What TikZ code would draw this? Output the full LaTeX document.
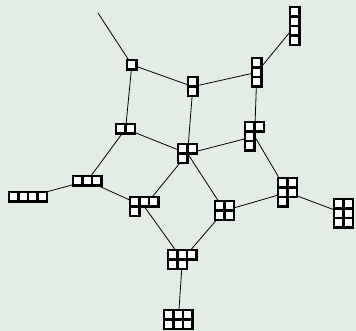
\documentclass[tikz,border=0pt]{standalone}
\definecolor{bg}{RGB}{228,237,229}
\tikzset{
  cellbox/.style={draw=black, fill=white, line width=2.3pt},
  edge/.style={draw=black, line width=0.8pt},
  ydnode/.style={anchor=north west, inner sep=0pt, outer sep=0pt, draw=none}
}
\newcommand\ydnode[5]{% name, x, y, cols, rows
  \node[ydnode, minimum width=#4*9.5pt, minimum height=#5*9.5pt] (#1) at (#2+1.1,-#3-1.1) {};}
\newcommand\ydcells[3]{% x, y, rowlist
  \foreach \len [count=\r from 0] in {#3} {
    \foreach \c in {1,...,\len} {
      \draw[cellbox] ({#1+1.1+(\c-1)*9.5},{-(#2+1.1+\r*9.5)}) rectangle ++(9.5,-9.5);
    }
  }}
\begin{document}
\begin{tikzpicture}[x=1pt,y=1pt]
\fill[bg] (0,0) rectangle (356,-331);
\useasboundingbox (0,0) rectangle (356,-331);
% nodes (bounding boxes)
\ydnode{A}{126}{59}{1}{1}
\ydnode{B}{187}{76}{1}{2}
\ydnode{C}{251}{57}{1}{3}
\ydnode{D}{289}{6}{1}{4}
\ydnode{E}{115}{123}{2}{1}
\ydnode{F}{177}{143}{2}{2}
\ydnode{G}{244}{121}{2}{3}
\ydnode{H}{72}{175}{3}{1}
\ydnode{I}{8}{191}{4}{1}
\ydnode{J}{129}{196}{3}{2}
\ydnode{K}{214}{200}{2}{2}
\ydnode{L}{277}{177}{2}{3}
\ydnode{M}{333}{198}{2}{3}
\ydnode{N}{167}{249}{3}{2}
\ydnode{O}{163}{309}{3}{2}
\coordinate (top) at (98,-13);
% edges
\draw[edge] (top) -- (A.center);
\draw[edge] (A.center) -- (B.center);
\draw[edge] (A.center) -- (E.center);
\draw[edge] (B.center) -- (C.center);
\draw[edge] (B.center) -- (F.center);
\draw[edge] (C.center) -- (D.center);
\draw[edge] (C.center) -- (G.center);
\draw[edge] (E.center) -- (F.center);
\draw[edge] (E.center) -- (H.center);
\draw[edge] (F.center) -- (G.center);
\draw[edge] (F.center) -- (J.center);
\draw[edge] (F.center) -- (K.center);
\draw[edge] (H.center) -- (I.center);
\draw[edge] (H.center) -- (J.center);
\draw[edge] (G.center) -- (L.center);
\draw[edge] (K.center) -- (L.center);
\draw[edge] (L.center) -- (M.center);
\draw[edge] (J.center) -- (N.center);
\draw[edge] (K.center) -- (N.center);
\draw[edge] (N.center) -- (O.center);
% cells
\ydcells{126}{59}{1}
\ydcells{187}{76}{1,1}
\ydcells{251}{57}{1,1,1}
\ydcells{289}{6}{1,1,1,1}
\ydcells{115}{123}{2}
\ydcells{177}{143}{2,1}
\ydcells{244}{121}{2,1,1}
\ydcells{72}{175}{3}
\ydcells{8}{191}{4}
\ydcells{129}{196}{3,1}
\ydcells{214}{200}{2,2}
\ydcells{277}{177}{2,2,1}
\ydcells{333}{198}{2,2,2}
\ydcells{167}{249}{3,2}
\ydcells{163}{309}{3,3}
\end{tikzpicture}
\end{document}
